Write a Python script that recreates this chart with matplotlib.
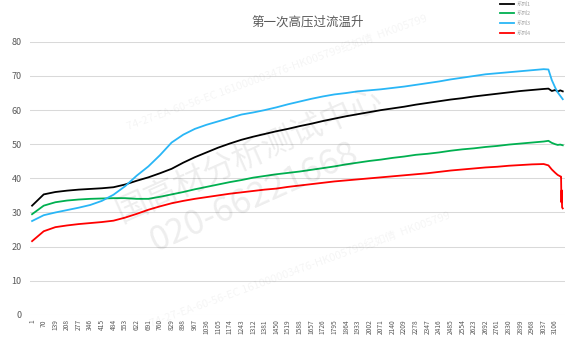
import matplotlib.pyplot as plt

plt.rcParams['font.family'] = ['Noto Sans CJK SC', 'DejaVu Sans']

# 横轴采样点（类别序号）
x_idx = [1, 70, 139, 208, 277, 346, 415, 484, 553, 622, 691, 760, 829, 898, 967,
         1036, 1105, 1174, 1243, 1312, 1381, 1450, 1519, 1588, 1657, 1726, 1795,
         1864, 1933, 2002, 2071, 2140, 2209, 2278, 2347, 2416, 2485, 2554, 2623,
         2692, 2761, 2830, 2899, 2968, 3037, 3065, 3085, 3106, 3120, 3135, 3150]

s1 = [32.0, 35.3, 36.0, 36.4, 36.7, 36.9, 37.1, 37.4, 38.2, 39.3, 40.3, 41.5, 42.8,
      44.6, 46.2, 47.6, 49.0, 50.2, 51.3, 52.2, 53.0, 53.8, 54.5, 55.3, 56.0, 56.8,
      57.5, 58.2, 58.8, 59.4, 60.0, 60.5, 61.0, 61.6, 62.1, 62.6, 63.1, 63.5, 64.0,
      64.4, 64.8, 65.2, 65.6, 65.9, 66.2, 66.3, 65.6, 65.9, 65.4, 65.8, 65.5]
s2 = [29.5, 32.0, 33.0, 33.5, 33.8, 34.0, 34.1, 34.2, 34.2, 34.0, 34.0, 34.6, 35.3,
      36.0, 36.8, 37.5, 38.2, 38.9, 39.5, 40.2, 40.7, 41.2, 41.6, 42.0, 42.5, 43.0,
      43.5, 44.1, 44.6, 45.1, 45.5, 46.0, 46.4, 46.9, 47.2, 47.6, 48.1, 48.5, 48.8,
      49.2, 49.5, 49.9, 50.2, 50.5, 50.8, 51.0, 50.4, 50.0, 49.8, 49.9, 49.7]
s3 = [27.5, 29.2, 30.0, 30.7, 31.4, 32.2, 33.4, 35.2, 37.7, 40.8, 43.5, 46.8, 50.5,
      52.8, 54.5, 55.7, 56.7, 57.7, 58.7, 59.3, 60.0, 60.8, 61.7, 62.5, 63.3, 64.0,
      64.6, 65.0, 65.5, 65.8, 66.1, 66.5, 66.9, 67.4, 67.9, 68.4, 69.0, 69.5, 70.0,
      70.5, 70.8, 71.1, 71.4, 71.7, 72.0, 71.9, 68.8, 66.5, 65.2, 64.2, 63.2]

x_idx4 = x_idx[:-1] + [3140, 3142, 3144, 3146, 3150]
s4 = [21.6, 24.5, 25.7, 26.2, 26.6, 26.9, 27.2, 27.6, 28.5, 29.6, 30.8, 31.8, 32.7,
      33.4, 34.0, 34.5, 35.0, 35.5, 35.9, 36.3, 36.7, 37.0, 37.5, 37.9, 38.3, 38.7,
      39.1, 39.4, 39.7, 40.0, 40.3, 40.6, 40.9, 41.2, 41.5, 41.9, 42.3, 42.6, 42.9,
      43.2, 43.4, 43.7, 43.9, 44.1, 44.2, 43.8, 42.6, 41.6, 41.0, 40.6, 40.5, 33.0,
      36.5, 31.5, 31.2]

tick_labels = list(range(1, 3107, 69))

fig = plt.figure(figsize=(5.78, 3.46), dpi=100)
ax = fig.add_axes([0.052, 0.09, 0.926, 0.789])

ax.plot(x_idx, s1, color='#000000', lw=1.3, label='系列1', zorder=3)
ax.plot(x_idx, s2, color='#00b050', lw=1.3, label='系列2', zorder=3)
ax.plot(x_idx, s3, color='#29b6f6', lw=1.3, label='系列3', zorder=3)
ax.plot(x_idx4, s4, color='#ff0000', lw=1.3, label='系列4', zorder=3)

ax.set_xlim(-11, 3165)
ax.set_ylim(0, 80)
ax.set_yticks(range(0, 81, 10))
ax.set_xticks(tick_labels)
ax.set_xticklabels([str(t) for t in tick_labels], rotation=90, fontsize=4.8,
                   color='#595959')
ax.tick_params(axis='y', labelsize=6.5, labelcolor='#595959', length=0, pad=6)
ax.tick_params(axis='x', length=0, pad=3)
ax.grid(axis='y', color='#d9d9d9', lw=0.75)
ax.set_axisbelow(True)
for sp in ax.spines.values():
    sp.set_visible(False)

fig.text(0.533, 0.935, '第一次高压过流温升', ha='center', va='center', fontsize=9,
         color='#595959')

leg = fig.legend(loc='upper left', bbox_to_anchor=(0.857, 1.01), fontsize=4,
                 frameon=False, handlelength=2.4, labelspacing=0.85,
                 handletextpad=0.5)
for t in leg.get_texts():
    t.set_color('#a6a6a6')

# 水印
fig.text(0.43, 0.55, '国高材分析测试中心', fontsize=23, color='#000000', alpha=0.07,
         rotation=24, ha='center', va='center', fontweight='light')
fig.text(0.44, 0.43, '020-66221668', fontsize=25, color='#000000', alpha=0.07,
         rotation=24, ha='center', va='center', fontweight='light')
wm = '74-27-EA-60-56-EC 161000003476-HK005799纪如倩  HK005799'
for cx, cy in [(0.48, 0.79), (0.52, 0.22)]:
    fig.text(cx, cy, wm, fontsize=8, color='#000000', alpha=0.045,
             rotation=20, ha='center', va='center')

fig.savefig('out.png', dpi=100)
